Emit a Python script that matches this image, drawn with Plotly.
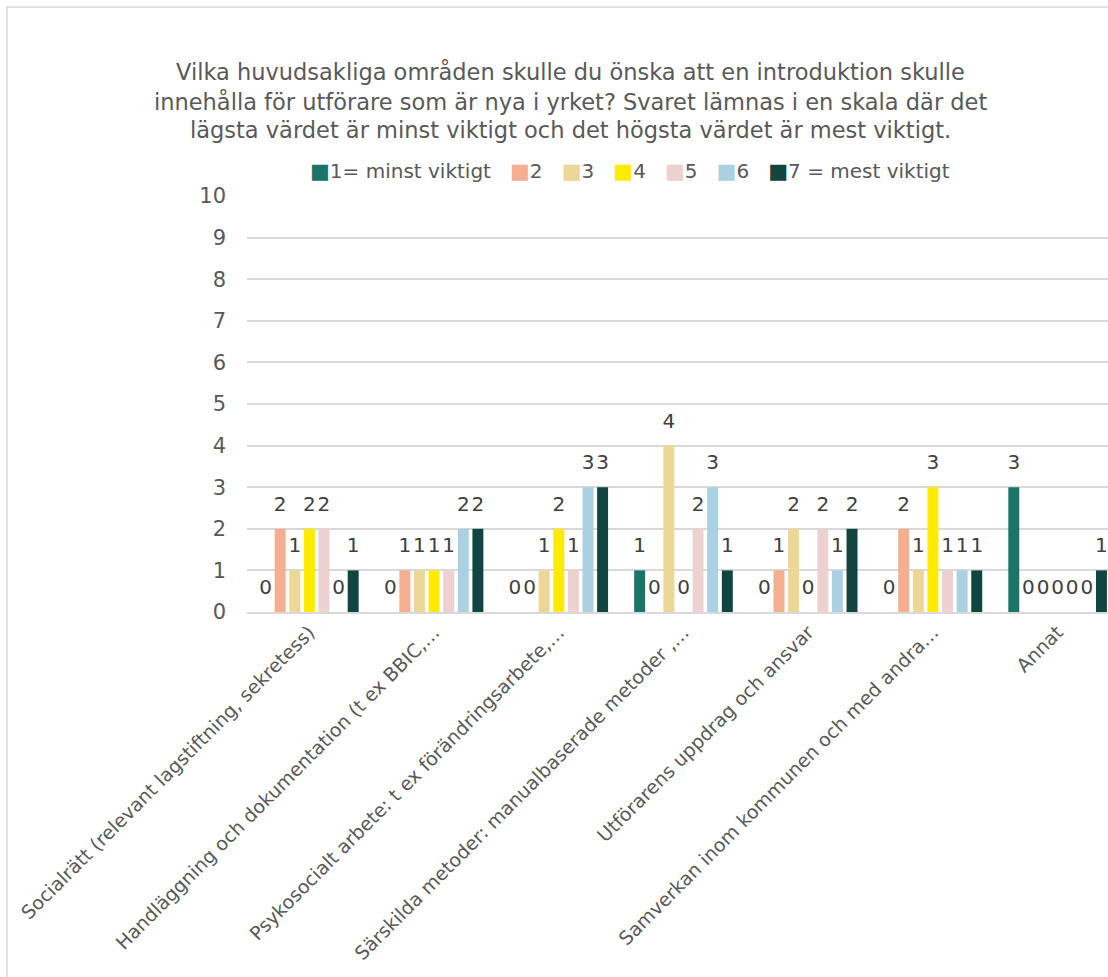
import plotly.graph_objects as go

categories = [
    "Socialrätt (relevant lagstiftning, sekretess)",
    "Handläggning och dokumentation (t ex BBIC,…",
    "Psykosocialt arbete: t ex förändringsarbete,…",
    "Särskilda metoder: manualbaserade metoder ,…",
    "Utförarens uppdrag och ansvar",
    "Samverkan inom kommunen och med andra…",
    "Annat",
]
series_names = ["1= minst viktigt", "2", "3", "4", "5", "6", "7 = mest viktigt"]
s1 = [0, 0, 0, 1, 0, 0, 3]
s2 = [2, 1, 0, 0, 1, 2, 0]
s3 = [1, 1, 1, 4, 2, 1, 0]
s4 = [2, 1, 2, 0, 0, 3, 0]
s5 = [2, 1, 1, 2, 2, 1, 0]
s6 = [0, 2, 3, 3, 1, 1, 0]
s7 = [1, 2, 3, 1, 2, 1, 1]
series_values = [s1, s2, s3, s4, s5, s6, s7]
colors = ["#1B7566", "#F5AE8F", "#ECD796", "#FFEB00", "#EDD1D1", "#AAD0E2", "#10463F"]
title_lines = [
    "Vilka huvudsakliga områden skulle du önska att en introduktion skulle",
    "innehålla för utförare som är nya i yrket? Svaret lämnas i en skala där det",
    "lägsta värdet är minst viktigt och det högsta värdet är mest viktigt.",
]

FONT = "DejaVu Sans"
GREY = "#595959"
fig = go.Figure()
for name, vals, col in zip(series_names, series_values, colors):
    fig.add_trace(go.Bar(
        x=categories, y=vals, name=name, marker_color=col, marker_line_width=0,
        text=[f"<span style='font-size:20px'>{v}</span><br> " for v in vals],
        textposition="outside", constraintext="none", cliponaxis=False,
        textfont=dict(family=FONT, size=10, color="#404040"),
        hoverinfo="skip", showlegend=False,
    ))

# legend drawn as one line of text with coloured squares
legend_parts = [
    f"<span style='color:{c};font-size:21px'>■</span>{n}"
    for n, c in zip(series_names, colors)
]
legend_text = "\u00a0\u00a0\u00a0".join(legend_parts)

PLOT_TOP, PLOT_BOTTOM, PLOT_LEFT, PLOT_W = 196, 612, 247, 861
def py(pix):
    return (PLOT_BOTTOM - pix) / (PLOT_BOTTOM - PLOT_TOP)
def px(pix):
    return (pix - PLOT_LEFT) / PLOT_W

annotations = []
for i, line in enumerate(title_lines):
    annotations.append(dict(text=line, x=px(570), y=py(72 + 29 * i), xref="paper", yref="paper",
                            xanchor="center", yanchor="middle", showarrow=False,
                            font=dict(family=FONT, size=22.5, color=GREY)))
annotations.append(dict(text=legend_text, x=px(630), y=py(171), xref="paper", yref="paper",
                        xanchor="center", yanchor="middle", showarrow=False,
                        font=dict(family=FONT, size=20, color=GREY)))

fig.update_layout(
    width=1108, height=977,
    margin=dict(l=PLOT_LEFT, r=0, t=PLOT_TOP, b=977 - PLOT_BOTTOM, autoexpand=False),
    paper_bgcolor="white", plot_bgcolor="white",
    barmode="group", bargap=0.18, bargroupgap=0.25,
    font=dict(family=FONT, color=GREY),
    showlegend=False,
    xaxis=dict(range=[-0.5, 6.404], tickangle=-45, showgrid=False, showline=True,
               linecolor="#d9d9d9", linewidth=1.5, ticks="", automargin=False,
               tickfont=dict(family=FONT, size=19, color=GREY)),
    yaxis=dict(range=[0, 10], dtick=1, showgrid=True, gridcolor="#d9d9d9", gridwidth=1.5,
               zeroline=False, showline=False, ticks="", ticklabelstandoff=20, automargin=False,
               tickfont=dict(family=FONT, size=21, color=GREY)),
    annotations=annotations,
    shapes=[dict(type="rect", xref="paper", yref="paper", x0=px(7), x1=1.2, y0=-0.95, y1=py(7),
                 line=dict(color="#d9d9d9", width=1.5), fillcolor="rgba(0,0,0,0)", layer="below")],
)

fig.write_html("out.html")
